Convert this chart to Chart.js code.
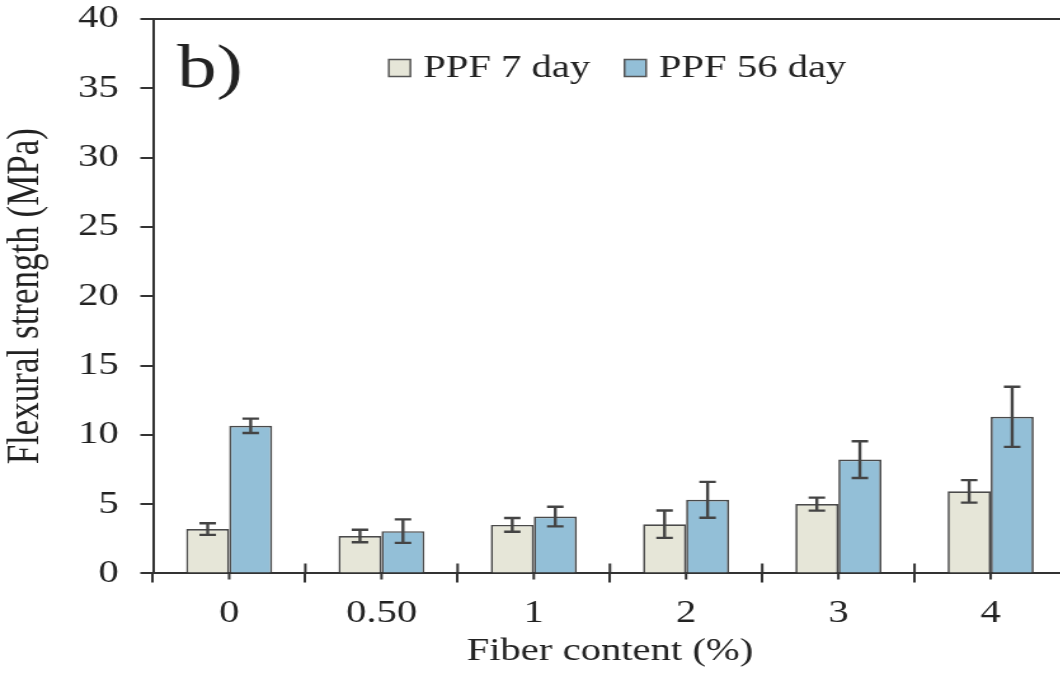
<!DOCTYPE html>
<html><head><meta charset="utf-8">
<script src="https://cdn.jsdelivr.net/npm/chart.js@4"></script>
<style>
html,body{margin:0;padding:0;overflow:hidden;background:#fff;width:1060px;height:677px}
#wrap{position:absolute;left:0;top:0;width:850px;height:677px;transform:scaleX(1.27);transform-origin:0 0}
</style></head><body>
<div id="wrap"><canvas id="c" width="850" height="677"></canvas></div>
<script>
const categories = ['0', '0.50', '1', '2', '3', '4'];
const seriesNames = ['PPF 7 day', 'PPF 56 day'];
const day7 = [3.2, 2.7, 3.5, 3.55, 5.0, 5.92];
const day7Err = [0.42, 0.45, 0.5, 0.99, 0.47, 0.81];
const day56 = [10.65, 3.05, 4.1, 5.31, 8.21, 11.3];
const day56Err = [0.52, 0.85, 0.71, 1.29, 1.33, 2.17];
const yMin = 0, yMax = 40, yStep = 5;
const panelLabel = 'b)';
const xTitle = 'Fiber content (%)';
const yTitle = 'Flexural strength (MPa)';

const FONT = '"Liberation Serif", "Times New Roman", serif';
const INK = '#222';

const errorBars = {
  id: 'errorBars',
  afterDatasetsDraw(chart) {
    const ctx = chart.ctx, y = chart.scales.y;
    chart.data.datasets.forEach((ds, i) => {
      const meta = chart.getDatasetMeta(i);
      meta.data.forEach((bar, j) => {
        const v = ds.data[j], e = ds.errors[j];
        const yTop = y.getPixelForValue(v + e), yBot = y.getPixelForValue(v - e);
        ctx.save();
        ctx.strokeStyle = '#444';
        ctx.lineWidth = 2.4;
        ctx.beginPath();
        ctx.moveTo(bar.x, yTop); ctx.lineTo(bar.x, yBot);
        ctx.moveTo(bar.x - 6.5, yTop); ctx.lineTo(bar.x + 6.5, yTop);
        ctx.moveTo(bar.x - 6.5, yBot); ctx.lineTo(bar.x + 6.5, yBot);
        ctx.stroke();
        ctx.restore();
      });
    });
  }
};

const frameAndLegend = {
  id: 'frameAndLegend',
  afterDraw(chart) {
    const ctx = chart.ctx, a = chart.chartArea;
    const xs = chart.scales.x;
    ctx.save();
    ctx.strokeStyle = '#333';
    ctx.lineWidth = 2;
    ctx.beginPath();
    ctx.moveTo(a.left, a.top); ctx.lineTo(a.right, a.top); ctx.lineTo(a.right, a.bottom);
    xs.ticks.forEach((t, i) => {
      const px = xs.getPixelForTick(i);
      ctx.moveTo(px, a.bottom); ctx.lineTo(px, a.bottom + 6);
    });
    ctx.stroke();
    ctx.beginPath();
    for (let i = 1; i < xs.ticks.length; i++) {
      const px = (xs.getPixelForTick(i - 1) + xs.getPixelForTick(i)) / 2;
      ctx.moveTo(px, a.bottom); ctx.lineTo(px, a.bottom - 10);
    }
    ctx.stroke();
    ctx.fillStyle = INK;
    ctx.font = '62px ' + FONT;
    ctx.textBaseline = 'alphabetic';
    ctx.textAlign = 'left';
    ctx.fillText(panelLabel, a.left + 19, a.top + 68);
    ctx.font = '32px ' + FONT;
    const box = 17, gap = 10, spacing = 27;
    const items = chart.data.datasets.map(ds => ({
      label: ds.label, fill: ds.backgroundColor,
      w: box + gap + ctx.measureText(ds.label).width
    }));
    const total = items.reduce((s, it) => s + it.w, 0) + spacing * (items.length - 1);
    let x = (a.left + a.right) / 2 + 6 - total / 2;
    const cy = a.top + 49;
    ctx.textBaseline = 'middle';
    items.forEach(it => {
      ctx.fillStyle = it.fill;
      ctx.fillRect(x, cy - box / 2, box, box);
      ctx.strokeStyle = '#555';
      ctx.lineWidth = 1.5;
      ctx.strokeRect(x, cy - box / 2, box, box);
      ctx.fillStyle = INK;
      ctx.fillText(it.label, x + box + gap, cy + 1);
      x += it.w + spacing;
    });
    ctx.restore();
  }
};

new Chart(document.getElementById('c'), {
  type: 'bar',
  data: {
    labels: categories,
    datasets: [
      { label: seriesNames[0], data: day7, errors: day7Err,
        backgroundColor: '#e6e6d8', borderColor: '#4a4a4a', borderWidth: 1.7 },
      { label: seriesNames[1], data: day56, errors: day56Err,
        backgroundColor: '#93bfd7', borderColor: '#4a4a4a', borderWidth: 1.7 }
    ]
  },
  options: {
    responsive: false,
    animation: false,
    devicePixelRatio: 1,
    layout: { padding: { left: 0, right: 10, top: 19, bottom: 13 } },
    datasets: { bar: { categoryPercentage: 0.565, barPercentage: 1 } },
    plugins: { legend: { display: false }, tooltip: { enabled: false } },
    scales: {
      x: {
        grid: { display: true, drawOnChartArea: false, offset: true, tickLength: 9, color: '#333', lineWidth: 2 },
        border: { color: '#333', width: 2 },
        ticks: { font: { family: FONT, size: 32, lineHeight: 1 }, color: INK, padding: 15 },
        title: { display: true, text: xTitle, font: { family: FONT, size: 32, lineHeight: 0.8 }, color: INK, padding: { top: -6, bottom: 0 } }
      },
      y: {
        min: yMin, max: yMax,
        ticks: { stepSize: yStep, font: { family: FONT, size: 32, lineHeight: 1 }, color: INK, padding: 17 },
        grid: { drawOnChartArea: false, tickLength: 10, color: '#333', lineWidth: 2 },
        border: { color: '#333', width: 2 },
        title: { display: true, text: yTitle, font: { family: FONT, size: 35 }, color: INK, padding: { top: 0, bottom: 0 } },
        afterFit(scale) { scale.width = 120.5; scale.paddingTop = 0; scale.paddingBottom = 0; }
      }
    }
  },
  plugins: [errorBars, frameAndLegend]
});
</script>
</body></html>
